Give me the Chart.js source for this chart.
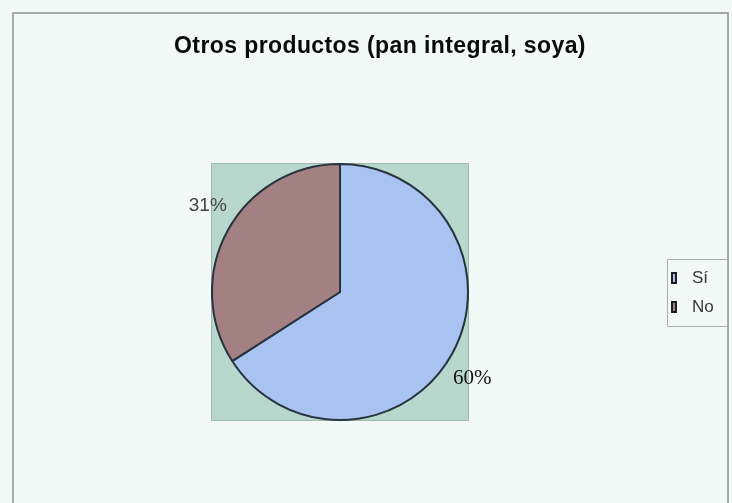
<!DOCTYPE html>
<html>
<head>
<meta charset="utf-8">
<script src="https://cdn.jsdelivr.net/npm/chart.js@4/dist/chart.umd.min.js"></script>
<style>
  html, body { margin: 0; padding: 0; background: #f2f9f6; }
  canvas { display: block; }
</style>
</head>
<body>
<canvas id="chart" width="732" height="503"></canvas>
<script>
const title = 'Otros productos (pan integral, soya)';
const categories = ['Sí', 'No'];
const values = [60, 31];
const valueLabels = ['60%', '31%'];
const sliceColors = ['#a9c3f0', '#a38081'];

// outside labels sit a little clockwise of each slice's middle
const labelAngleShift = 4.5 * Math.PI / 180;
const labelDistance = 30;

// frame, grey-green plot box, title and the small legend on the right
const backdrop = {
  id: 'backdrop',
  beforeDatasetsDraw(chart) {
    const ctx = chart.ctx;
    ctx.save();
    ctx.fillStyle = '#f2f9f6';
    ctx.fillRect(0, 0, chart.width, chart.height);

    ctx.strokeStyle = '#8b9192';
    ctx.lineWidth = 1.5;
    ctx.beginPath();
    ctx.moveTo(13, chart.height);
    ctx.lineTo(13, 13);
    ctx.lineTo(728, 13);
    ctx.lineTo(728, chart.height);
    ctx.stroke();

    const arc = chart.getDatasetMeta(0).data[0];
    const r = arc.outerRadius + 1;
    ctx.fillStyle = '#b8d8cd';
    ctx.fillRect(arc.x - r, arc.y - r, r * 2, r * 2);
    ctx.strokeStyle = '#9fb8b0';
    ctx.lineWidth = 1;
    ctx.strokeRect(arc.x - r + 0.5, arc.y - r + 0.5, r * 2 - 1, r * 2 - 1);

    ctx.fillStyle = '#0a0a0a';
    ctx.font = 'bold 23px "Liberation Sans", Arial, sans-serif';
    ctx.letterSpacing = '0.4px';
    ctx.textAlign = 'center';
    ctx.textBaseline = 'alphabetic';
    ctx.fillText(title, 380, 53);
    ctx.letterSpacing = '0px';

    // legend
    ctx.strokeStyle = '#a9b0ae';
    ctx.lineWidth = 1;
    ctx.strokeRect(667.5, 259.5, 60, 67);
    ctx.font = '17px "Liberation Sans", Arial, sans-serif';
    ctx.textAlign = 'left';
    ctx.textBaseline = 'middle';
    categories.forEach((c, i) => {
      const y = 278 + i * 29;
      ctx.fillStyle = sliceColors[i];
      ctx.fillRect(672, y - 5, 4, 10);
      ctx.strokeStyle = '#1e1e1e';
      ctx.lineWidth = 2;
      ctx.strokeRect(672, y - 5, 4, 10);
      ctx.fillStyle = '#383838';
      ctx.fillText(c, 692, y);
    });
    ctx.restore();
  },
  afterDatasetsDraw(chart) {
    const ctx = chart.ctx;
    const fonts = ['21px "Liberation Serif", "Times New Roman", serif', '19px "Liberation Sans", Arial, sans-serif'];
    const colors = ['#111', '#444'];
    ctx.save();
    ctx.textAlign = 'center';
    ctx.textBaseline = 'middle';
    chart.getDatasetMeta(0).data.forEach((arc, i) => {
      const mid = (arc.startAngle + arc.endAngle) / 2 + labelAngleShift;
      const dist = arc.outerRadius + labelDistance;
      ctx.font = fonts[i];
      ctx.fillStyle = colors[i];
      ctx.fillText(valueLabels[i], arc.x + Math.cos(mid) * dist, arc.y + Math.sin(mid) * dist);
    });
    ctx.restore();
  }
};

new Chart(document.getElementById('chart'), {
  type: 'pie',
  data: {
    labels: categories,
    datasets: [{
      data: values,
      backgroundColor: sliceColors,
      borderColor: '#27333f',
      borderWidth: 2
    }]
  },
  options: {
    responsive: false,
    animation: false,
    layout: { padding: { left: 211, top: 163, right: 263, bottom: 82 } },
    plugins: {
      legend: { display: false },
      tooltip: { enabled: false }
    }
  },
  plugins: [backdrop]
});
</script>
</body>
</html>
